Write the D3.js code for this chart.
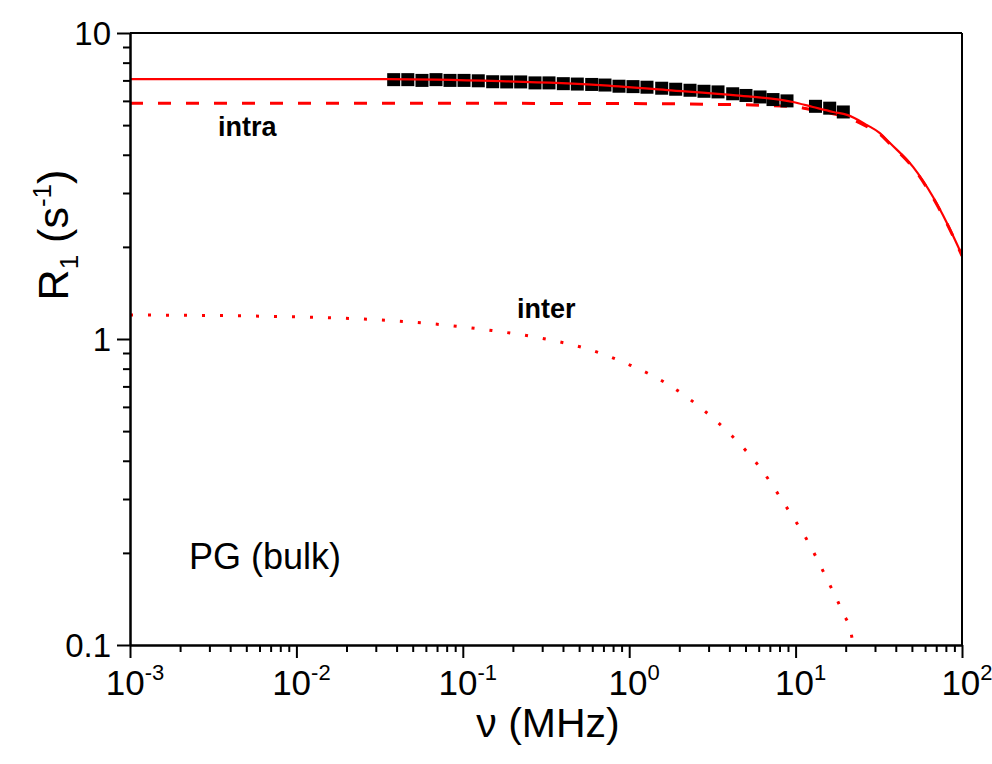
<!DOCTYPE html>
<html>
<head>
<meta charset="utf-8">
<script src="https://cdn.jsdelivr.net/npm/d3@7"></script>
<style>
  html, body { margin: 0; padding: 0; background: #fff; }
  svg { display: block; }
  text { font-family: Arial, "Liberation Sans", sans-serif; fill: #000; }
</style>
</head>
<body>
<svg id="chart" width="992" height="764"></svg>
<script>
// ---- data ----
const measFreq = [0.03843, 0.04672, 0.05685, 0.06902, 0.08378, 0.1017, 0.1239, 0.1512, 0.1836, 0.2228,
  0.2716, 0.3296, 0.4018, 0.4877, 0.5951, 0.7153, 0.8684, 1.054, 1.279, 1.568,
  1.903, 2.320, 2.815, 3.418, 4.188, 5.033, 6.112, 7.315, 8.878, 13.17, 16.03, 19.35];
const measR1 = [7.04, 7.04, 7.00, 7.04, 7.00, 7.00, 6.98, 6.93, 6.92, 6.92,
  6.87, 6.87, 6.83, 6.81, 6.79, 6.76, 6.70, 6.68, 6.65, 6.60,
  6.55, 6.50, 6.45, 6.42, 6.33, 6.25, 6.18, 6.06, 6.00, 5.76, 5.68, 5.52];

const totalFreq = [0.001, 0.01, 0.035, 0.1676, 0.667, 1.69, 4.21, 9.64, 12.7, 16.8, 20.4, 26.9, 32.1, 36.9, 50.8, 67.0, 81.3, 100];
const totalR1   = [7.07, 7.07, 7.07, 6.96, 6.76, 6.51, 6.27, 5.95, 5.73, 5.52, 5.40, 5.00, 4.71, 4.37, 3.65, 2.91, 2.39, 1.88];

const intraFreq = [0.001, 0.1, 1, 3, 6.5, 10, 12.7, 16.8, 20.4, 26.9, 32.1, 36.9, 50.8, 67.0, 81.3, 100];
const intraR1   = [5.89, 5.89, 5.88, 5.85, 5.80, 5.74, 5.60, 5.45, 5.30, 4.94, 4.67, 4.34, 3.63, 2.89, 2.38, 1.87];

const interFreq = [0.001, 0.00526, 0.0318, 0.0671, 0.1415, 0.291, 0.614, 1.01, 1.66, 2.70, 4.15, 6.20, 8.75, 11.9, 15.2, 19.3, 21.5, 22.2];
const interR1   = [1.198, 1.189, 1.154, 1.12, 1.070, 1.008, 0.914, 0.822, 0.718, 0.595, 0.482, 0.376, 0.284, 0.217, 0.167, 0.127, 0.110, 0.100];

const xMajorTicks = [1e-3, 1e-2, 1e-1, 1e0, 1e1, 1e2];
const xTickExponents = ["-3", "-2", "-1", "0", "1", "2"];
const yMajorTicks = [0.1, 1, 10];
const yTickLabels = ["0.1", "1", "10"];

// ---- layout ----
const svg = d3.select("#chart");
const L = 130, R = 962, T = 33, B = 645;
const x = d3.scaleLog().domain([1e-3, 1e2]).range([L, R]);
const y = d3.scaleLog().domain([0.1, 10]).range([B, T]);

const minorOf = (majors) => {
  const out = [];
  for (let i = 0; i < majors.length - 1; i++)
    for (let k = 2; k <= 9; k++) out.push(majors[i] * k);
  return out;
};

// clip
svg.append("defs").append("clipPath").attr("id", "clip")
  .append("rect").attr("x", L).attr("y", T).attr("width", R - L).attr("height", B - T);

// curves
const line = d3.line().x(d => x(d[0])).y(d => y(d[1])).curve(d3.curveMonotoneX);
const plot = svg.append("g").attr("clip-path", "url(#clip)");

plot.append("path").datum(d3.zip(interFreq, interR1)).attr("d", line)
  .attr("fill", "none").attr("stroke", "#ff0000").attr("stroke-width", 3)
  .attr("stroke-dasharray", "3,15");

plot.append("path").datum(d3.zip(intraFreq, intraR1)).attr("d", line)
  .attr("fill", "none").attr("stroke", "#ff0000").attr("stroke-width", 3)
  .attr("stroke-dasharray", "13,15");

// squares
const sq = 13;
svg.append("g").selectAll("rect").data(d3.zip(measFreq, measR1)).join("rect")
  .attr("x", d => x(d[0]) - sq / 2).attr("y", d => y(d[1]) - sq / 2)
  .attr("width", sq).attr("height", sq).attr("fill", "#000");

// total fit on top of squares
svg.append("g").attr("clip-path", "url(#clip)")
  .append("path").datum(d3.zip(totalFreq, totalR1)).attr("d", line)
  .attr("fill", "none").attr("stroke", "#ff0000").attr("stroke-width", 2.2);

// axes
const axisStyle = g => {
  g.select(".domain").attr("stroke", "#000").attr("stroke-width", 2);
  g.selectAll(".tick line").attr("stroke", "#000").attr("stroke-width", 2);
};
svg.append("g").attr("transform", `translate(0,${B})`)
  .call(d3.axisBottom(x).tickValues(minorOf(xMajorTicks)).tickSize(7).tickSizeOuter(0).tickFormat(""))
  .call(axisStyle);
svg.append("g").attr("transform", `translate(0,${B})`)
  .call(d3.axisBottom(x).tickValues(xMajorTicks).tickSize(13).tickSizeOuter(0).tickFormat(""))
  .call(axisStyle);
svg.append("g").attr("transform", `translate(${L},0)`)
  .call(d3.axisLeft(y).tickValues(minorOf(yMajorTicks)).tickSize(7).tickSizeOuter(0).tickFormat(""))
  .call(axisStyle);
svg.append("g").attr("transform", `translate(${L},0)`)
  .call(d3.axisLeft(y).tickValues(yMajorTicks).tickSize(13).tickSizeOuter(0).tickFormat(""))
  .call(axisStyle);
// frame top/right
svg.append("line").attr("x1", L).attr("x2", R).attr("y1", T).attr("y2", T).attr("stroke", "#000").attr("stroke-width", 2);
svg.append("line").attr("x1", R).attr("x2", R).attr("y1", T).attr("y2", B).attr("stroke", "#000").attr("stroke-width", 2);

// tick labels
const xl = svg.append("g").selectAll("text").data(d3.zip(xMajorTicks, xTickExponents)).join("text")
  .attr("x", d => x(d[0]) + 5).attr("y", 695).attr("text-anchor", "middle")
  .style("font-size", "35px");
xl.append("tspan").text("10");
xl.append("tspan").attr("dy", -15).style("font-size", "22px").text(d => d[1]);

svg.append("g").selectAll("text").data(d3.zip(yMajorTicks, yTickLabels)).join("text")
  .attr("x", 111).attr("y", d => y(d[0]) + 12).attr("text-anchor", "end")
  .style("font-size", "33px").text(d => d[1]);

// axis titles
svg.append("text").attr("x", 548).attr("y", 737).attr("text-anchor", "middle")
  .style("font-size", "41px").text("\u03BD (MHz)");

const yt = svg.append("text").attr("transform", "translate(68,235) rotate(-90)")
  .attr("text-anchor", "middle").style("font-size", "43px");
yt.append("tspan").text("R");
yt.append("tspan").attr("dy", 10).style("font-size", "26px").text("1");
yt.append("tspan").attr("dy", -10).text(" (s");
yt.append("tspan").attr("dy", -17).style("font-size", "26px").text("-1");
yt.append("tspan").attr("dy", 17).text(")");

// annotations
svg.append("text").attr("x", x(0.00338)).attr("y", y(4.61)).style("font-size", "27px")
  .style("font-weight", "bold").text("intra");
svg.append("text").attr("x", 517).attr("y", 318).style("font-size", "27px")
  .style("font-weight", "bold").text("inter");
svg.append("text").attr("x", 189).attr("y", 569).style("font-size", "36px").text("PG (bulk)");
</script>
</body>
</html>
